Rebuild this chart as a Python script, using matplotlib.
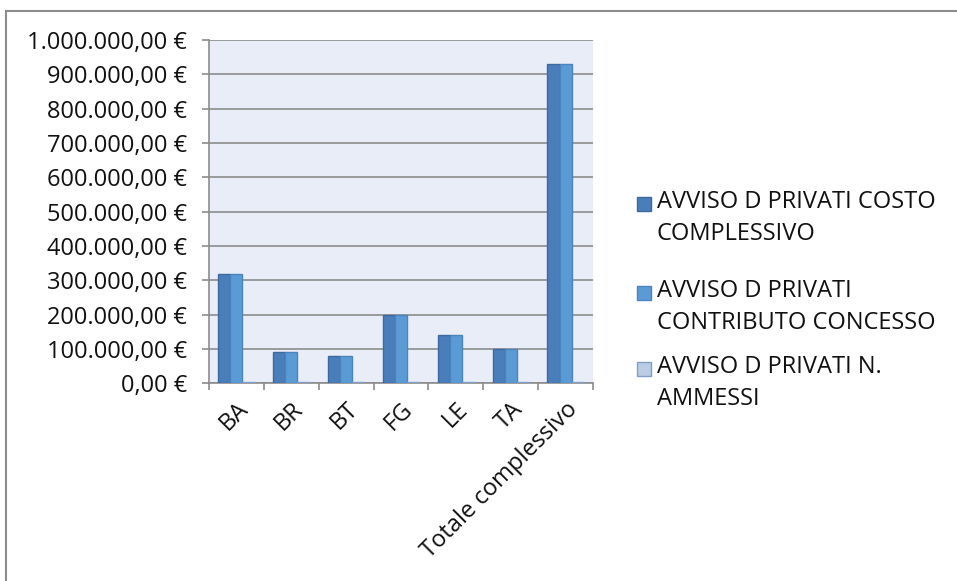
import matplotlib
matplotlib.use("Agg")
import matplotlib.pyplot as plt
from matplotlib.patches import Rectangle
import numpy as np

categories = ["BA", "BR", "BT", "FG", "LE", "TA", "Totale complessivo"]
costo = [319000, 90000, 80000, 200000, 140000, 100000, 929000]
contributo = [319000, 90000, 80000, 200000, 140000, 100000, 929000]
ammessi = [3000, 3000, 3000, 3000, 3000, 3000, 3000]
legend_labels = ["AVVISO D PRIVATI COSTO\nCOMPLESSIVO",
                 "AVVISO D PRIVATI\nCONTRIBUTO CONCESSO",
                 "AVVISO D PRIVATI N.\nAMMESSI"]
yticks = list(range(0, 1000001, 100000))

W, H = 957, 581
plt.rcParams['font.family'] = ['Open Sans', 'DejaVu Sans']
fig = plt.figure(figsize=(W/100, H/100), dpi=100)
FS = 17

# outer border
fig.patches.append(Rectangle((6/W, -0.1), 1.2, 1.1 - 11/H, transform=fig.transFigure,
                             fill=False, edgecolor='#8c8c8c', linewidth=1.5))

ax = fig.add_axes([209/W, 1 - 383.3/H, (593-209)/W, (383.3-40)/H])
ax.set_facecolor('#E9EDF7')

x = np.arange(len(categories))
bw = 0.22
cols = ['#4A7EBB', '#5B9BD5', '#B9CDE5']
edges = ['#3C6A9E', '#4A84BC', '#7F9FC8']
for i, (vals, c, e) in enumerate(zip([costo, contributo, ammessi], cols, edges)):
    ax.bar(x + (i - 1) * bw, vals, width=bw, color=c, edgecolor=e, linewidth=1, zorder=3)

ax.set_xlim(-0.5, len(categories) - 0.5)
ax.set_ylim(0, 1000000)
ax.set_yticks(yticks)
ax.set_yticklabels([f"{v:,.2f}".replace(",", "X").replace(".", ",").replace("X", ".") + " €" for v in yticks],
                   fontsize=FS, color='#111111')
ax.yaxis.grid(True, color='#8c8c8c', linewidth=1.2, zorder=1)
ax.set_axisbelow(True)
ax.set_xticks(x)
ax.set_xticklabels(categories, rotation=45, ha='right', rotation_mode='anchor', fontsize=FS, color='#111111')
ax.set_xticks(np.arange(-0.5, len(categories)), minor=True)
ax.tick_params(axis='x', which='major', length=0, pad=10)
ax.tick_params(axis='x', which='minor', length=5, color='#8c8c8c', width=1.2)
ax.tick_params(axis='y', length=5, color='#8c8c8c', width=1.2, pad=11)
for s in ['top', 'right']:
    ax.spines[s].set_visible(False)
for s in ['left', 'bottom']:
    ax.spines[s].set_color('#8c8c8c')
    ax.spines[s].set_linewidth(1.2)

# legend drawn manually: marker aligned with first line of each entry
entry_tops = [194, 283, 359]
for top, lab, c, e in zip(entry_tops, legend_labels, cols, edges):
    fig.patches.append(Rectangle((637/W, 1 - (top + 17)/H), 14/W, 14/H, transform=fig.transFigure,
                                 facecolor=c, edgecolor=e, linewidth=1))
    fig.text(657/W, 1 - (top - 4)/H, lab, fontsize=FS, va='top', ha='left',
             linespacing=1.42, color='#111111')

fig.savefig("out.png", dpi=100)
